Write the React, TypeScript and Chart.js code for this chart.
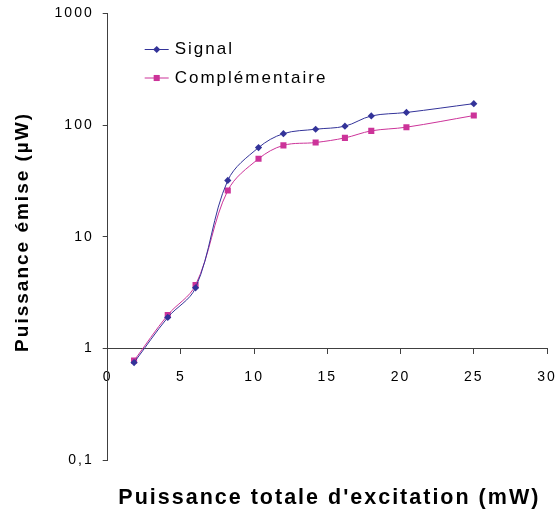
import React, { useEffect, useRef } from 'react';
import { Chart, registerables } from 'chart.js';

Chart.register(...registerables);

// ---- data ----
const excitation = [1.8, 4.1, 6.0, 8.2, 10.3, 12.0, 14.2, 16.2, 18.0, 20.4, 25.0];
const signal = [0.75, 1.9, 3.5, 32, 63, 84, 92, 98, 121, 130, 156];
const complementaire = [0.78, 2.0, 3.7, 26, 50, 66, 70, 77, 89, 96, 122];
const seriesNames = ['Signal', 'Complémentaire'];
const yTickValues = [0.1, 1, 10, 100, 1000];
const yTickLabels = ['0,1', '1', '10', '100', '1000'];
const xTitle = "Puissance totale d'excitation (mW)";
const yTitle = 'Puissance émise (µW)';

const FONT = "'Liberation Sans', Arial, Helvetica, sans-serif";
const AXIS = '#404040';

const spacing = (chart: any) => {
  try { chart.ctx.letterSpacing = '2px'; } catch (e) {}
};

const spacingPlugin = {
  id: 'letterSpacing',
  beforeUpdate: spacing,
  beforeLayout: spacing,
  beforeDraw: spacing,
};

const drawMarker = (ctx: CanvasRenderingContext2D, style: string, r: number, x: number, y: number, color: string) => {
  ctx.fillStyle = color;
  ctx.beginPath();
  if (style === 'rectRot') {
    ctx.moveTo(x, y - r);
    ctx.lineTo(x + r, y);
    ctx.lineTo(x, y + r);
    ctx.lineTo(x - r, y);
    ctx.closePath();
  } else {
    const s = r * Math.SQRT1_2;
    ctx.rect(x - s, y - s, 2 * s, 2 * s);
  }
  ctx.fill();
};

const textPlugin = {
  id: 'textDecor',
  afterDraw(chart: any) {
    const { ctx, chartArea: a } = chart;
    ctx.save();
    try { ctx.letterSpacing = '2px'; } catch (e) {}
    ctx.fillStyle = '#000';
    ctx.textAlign = 'center';
    ctx.textBaseline = 'middle';
    ctx.font = `bold 21.5px ${FONT}`;
    ctx.fillText(xTitle, (a.left + a.right) / 2 + 2, a.bottom + 38);
    ctx.save();
    ctx.translate(23, (a.top + a.bottom) / 2 - 5);
    ctx.rotate(-Math.PI / 2);
    ctx.font = `bold 19px ${FONT}`;
    ctx.fillText(yTitle, 0, 0);
    ctx.restore();

    chart.data.datasets.forEach((ds: any, i: number) => {
      const y = a.top + 36 + i * 28.5;
      const x0 = a.left + 37;
      const x1 = a.left + 61;
      ctx.strokeStyle = ds.borderColor;
      ctx.lineWidth = 1;
      ctx.beginPath();
      ctx.moveTo(x0, y);
      ctx.lineTo(x1, y);
      ctx.stroke();
      drawMarker(ctx, ds.pointStyle, ds.pointRadius, (x0 + x1) / 2, y, ds.pointBackgroundColor);
      ctx.fillStyle = '#000';
      ctx.textAlign = 'left';
      ctx.font = `17px ${FONT}`;
      ctx.fillText(ds.label, a.left + 67, y);
    });
    ctx.restore();
  },
};

export default function App() {
  const ref = useRef<HTMLCanvasElement | null>(null);

  useEffect(() => {
    if (!ref.current) return;
    const chart = new Chart(ref.current, {
      type: 'scatter',
      data: {
        datasets: [
          {
            label: seriesNames[0],
            data: excitation.map((x, i) => ({ x, y: signal[i] })),
            showLine: true,
            borderColor: '#333399',
            backgroundColor: '#333399',
            pointBackgroundColor: '#333399',
            pointBorderColor: '#333399',
            pointStyle: 'rectRot',
            pointRadius: 3.6,
            pointBorderWidth: 0,
            borderWidth: 1,
            tension: 0.35,
          },
          {
            label: seriesNames[1],
            data: excitation.map((x, i) => ({ x, y: complementaire[i] })),
            showLine: true,
            borderColor: '#CC3399',
            backgroundColor: '#CC3399',
            pointBackgroundColor: '#CC3399',
            pointBorderColor: '#CC3399',
            pointStyle: 'rect',
            pointRadius: 4.3,
            pointBorderWidth: 0,
            borderWidth: 1,
            tension: 0.35,
          },
        ],
      },
      options: {
        responsive: false,
        animation: false,
        devicePixelRatio: 1,
        layout: { padding: { top: 13.5, right: 10, bottom: 52.7, left: 0 } },
        plugins: {
          legend: { display: false },
          tooltip: { enabled: false },
          title: { display: false },
        },
        scales: {
          x: {
            type: 'linear',
            min: 0,
            max: 30,
            position: { y: 1 } as any,
            afterFit: (scale: any) => {
              scale.paddingLeft = 0;
              scale.paddingRight = 0;
            },
            ticks: {
              stepSize: 5,
              color: '#000',
              font: { family: FONT, size: 14 },
              padding: 15,
              maxRotation: 0,
            },
            grid: { drawOnChartArea: false, drawTicks: true, tickLength: 5, color: AXIS },
            border: { display: true, color: AXIS, width: 1 },
          },
          y: {
            type: 'logarithmic',
            min: 0.1,
            max: 1000,
            position: 'left',
            afterBuildTicks: (scale: any) => {
              scale.ticks = yTickValues.map((v) => ({ value: v }));
            },
            afterFit: (scale: any) => {
              scale.width = 107.7;
              scale.paddingTop = 0;
              scale.paddingBottom = 0;
            },
            ticks: {
              color: '#000',
              font: { family: FONT, size: 14 },
              padding: 9,
              callback: (v: any) => {
                const i = yTickValues.indexOf(Number(v));
                return i >= 0 ? yTickLabels[i] : '';
              },
            },
            grid: { drawOnChartArea: false, drawTicks: true, tickLength: 5, color: AXIS },
            border: { display: true, color: AXIS, width: 1 },
          },
        },
      },
      plugins: [spacingPlugin, textPlugin],
    } as any);
    return () => chart.destroy();
  }, []);

  return (
    <div style={{ position: 'absolute', left: 0, top: 0, width: 557, height: 513, background: '#fff' }}>
      <canvas ref={ref} width={557} height={513} style={{ display: 'block' }} />
    </div>
  );
}
